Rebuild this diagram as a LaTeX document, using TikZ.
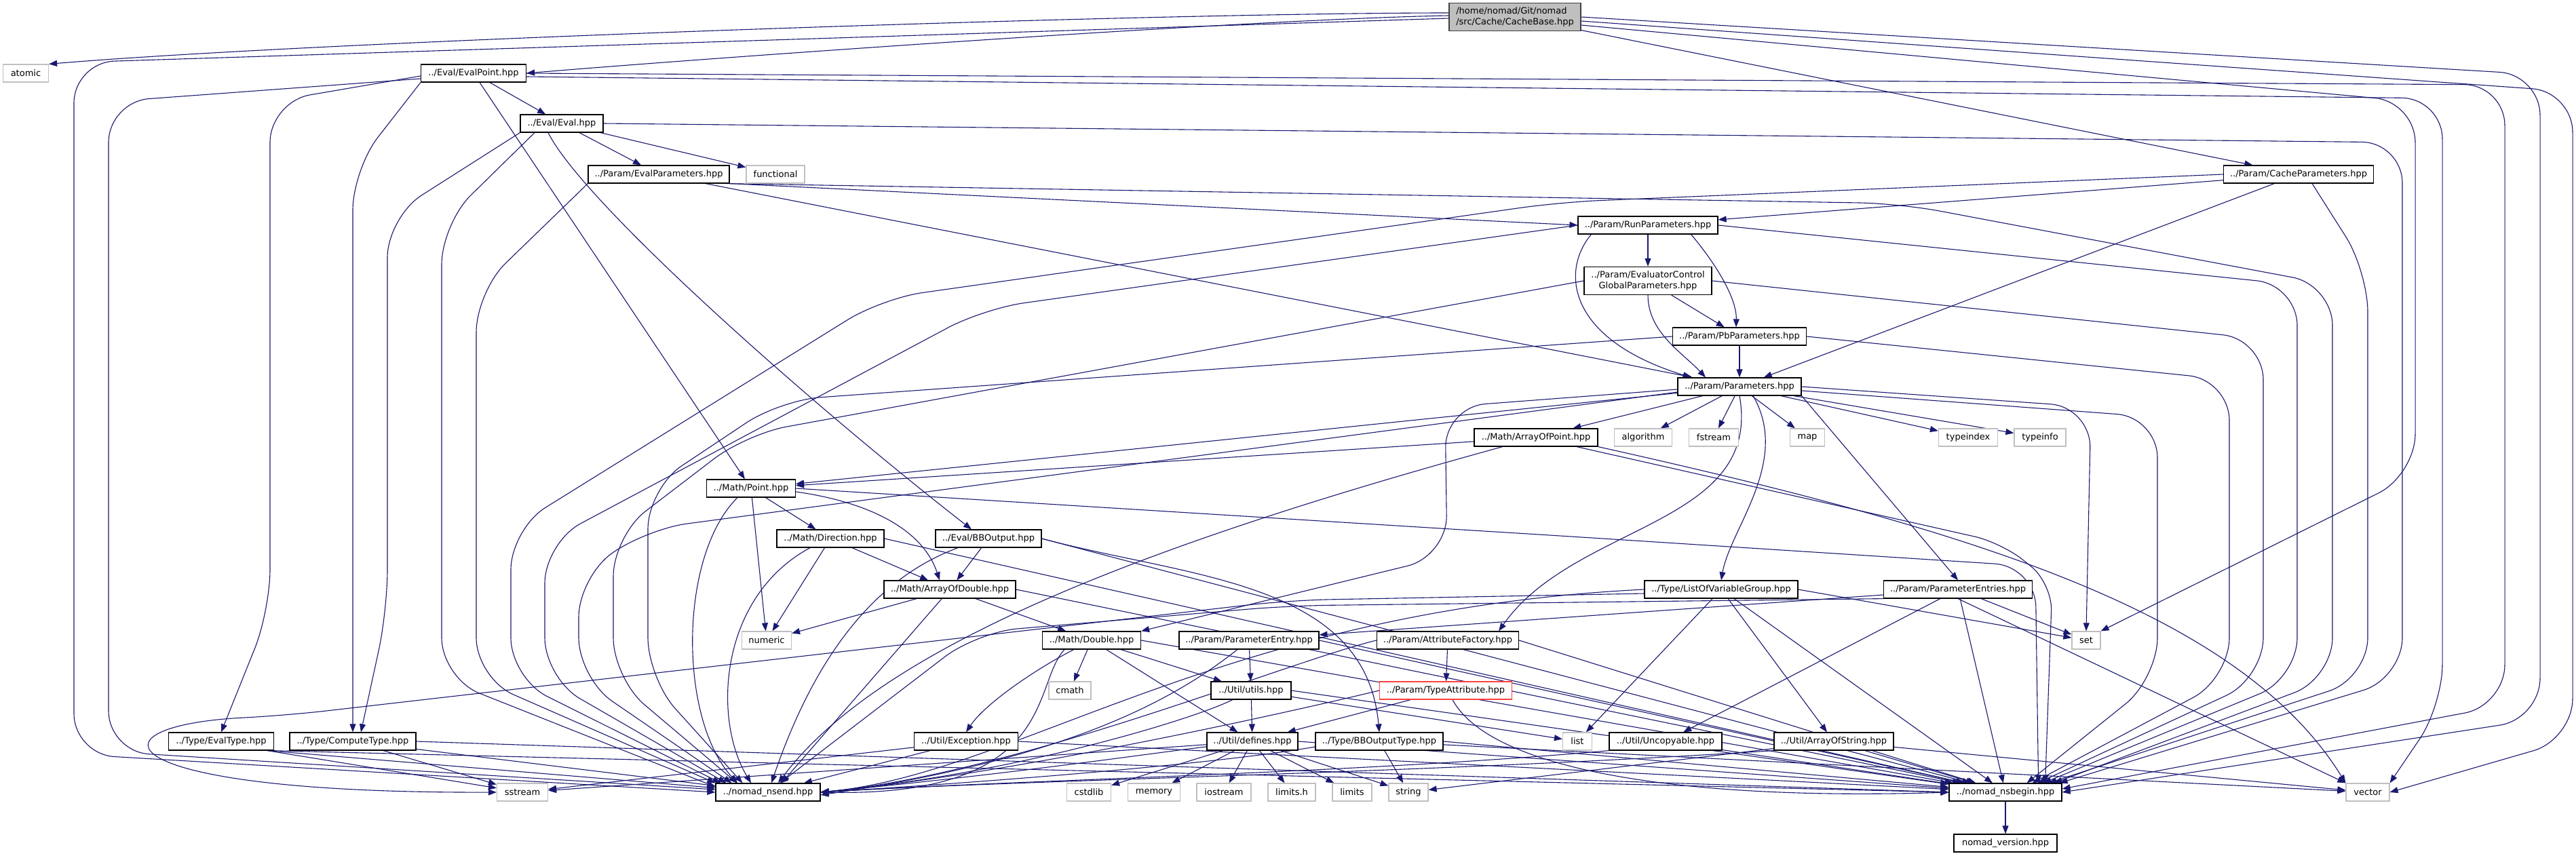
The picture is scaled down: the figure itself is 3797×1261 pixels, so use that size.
\documentclass[tikz,border=0pt]{standalone}
\usepackage{fontspec}
\setmainfont{DejaVu Sans}
\usetikzlibrary{arrows.meta, backgrounds}
\definecolor{linkblue}{HTML}{191970}
\definecolor{sysline}{HTML}{BFBFBF}
\definecolor{rootfill}{HTML}{BFBFBF}
\definecolor{rootline}{HTML}{404040}
\definecolor{truncline}{HTML}{FF4040}

\begin{document}
\begin{tikzpicture}[x=1pt, y=1pt,
  font=\fontsize{13}{15.3}\selectfont,
  hdr/.style={draw=black, fill=white, line width=1.2pt, minimum height=26pt, inner sep=2pt},
  sys/.style={hdr, draw=sysline},
  rootbox/.style={hdr, fill=rootfill, draw=rootline, minimum height=41pt, align=left},
  truncbox/.style={hdr, draw=truncline},
  inc/.style={linkblue, line width=1.1pt, -{Triangle[length=12pt, width=9pt]}},
  longinc/.style={inc, rounded corners=60pt}]
  \useasboundingbox (0,0) rectangle (3797,-1261);

  \node[rootbox, minimum width=194] (cb) at (2233,-25) {/home/nomad/Git/nomad\\/src/Cache/CacheBase.hpp};
  \node[sys, minimum width=67] (atomic) at (38,-108) {atomic};
  \node[hdr, minimum width=155] (ep) at (698,-108) {../Eval/EvalPoint.hpp};
  \node[hdr, minimum width=122] (eval) at (828,-182) {../Eval/Eval.hpp};
  \node[hdr, minimum width=208] (evp) at (971,-257) {../Param/EvalParameters.hpp};
  \node[sys, minimum width=86] (functional) at (1143,-257) {functional};
  \node[hdr, minimum width=221] (cp) at (3388,-257) {../Param/CacheParameters.hpp};
  \node[hdr, minimum width=206] (rp) at (2429,-332) {../Param/RunParameters.hpp};
  \node[hdr, minimum width=188, minimum height=41, align=center] (ecg) at (2429,-414) {../Param/EvaluatorControl\\GlobalParameters.hpp};
  \node[hdr, minimum width=197] (pb) at (2564,-496) {../Param/PbParameters.hpp};
  \node[hdr, minimum width=182] (pa) at (2564,-570) {../Param/Parameters.hpp};
  \node[hdr, minimum width=182] (ap) at (2264,-645) {../Math/ArrayOfPoint.hpp};
  \node[sys, minimum width=85] (algorithm) at (2422,-645) {algorithm};
  \node[sys, minimum width=73] (fstream) at (2526,-645) {fstream};
  \node[sys, minimum width=51] (map) at (2664,-645) {map};
  \node[sys, minimum width=87] (typeindex) at (2901,-645) {typeindex};
  \node[sys, minimum width=76] (typeinfo) at (3007,-645) {typeinfo};
  \node[hdr, minimum width=131] (point) at (1107,-720) {../Math/Point.hpp};
  \node[hdr, minimum width=158] (dir) at (1224,-794) {../Math/Direction.hpp};
  \node[hdr, minimum width=156] (bbo) at (1457,-794) {../Eval/BBOutput.hpp};
  \node[hdr, minimum width=194] (aod) at (1400,-869) {../Math/ArrayOfDouble.hpp};
  \node[hdr, minimum width=226] (lvg) at (2537,-869) {../Type/ListOfVariableGroup.hpp};
  \node[hdr, minimum width=219] (pes) at (2886,-869) {../Param/ParameterEntries.hpp};
  \node[sys, minimum width=73] (numeric) at (1130,-944) {numeric};
  \node[hdr, minimum width=145] (dbl) at (1609,-944) {../Math/Double.hpp};
  \node[hdr, minimum width=206] (pe) at (1841,-944) {../Param/ParameterEntry.hpp};
  \node[hdr, minimum width=209] (af) at (2134,-944) {../Param/AttributeFactory.hpp};
  \node[sys, minimum width=42] (set) at (3075,-944) {set};
  \node[sys, minimum width=62] (cmath) at (1577,-1018) {cmath};
  \node[hdr, minimum width=118] (utils) at (1844,-1018) {../Util/utils.hpp};
  \node[truncbox, minimum width=195] (ta) at (2131,-1018) {../Param/TypeAttribute.hpp};
  \node[hdr, minimum width=155] (evaltype) at (326,-1093) {../Type/EvalType.hpp};
  \node[hdr, minimum width=186] (computetype) at (520,-1093) {../Type/ComputeType.hpp};
  \node[hdr, minimum width=153] (exc) at (1424,-1093) {../Util/Exception.hpp};
  \node[hdr, minimum width=134] (defines) at (1846,-1093) {../Util/defines.hpp};
  \node[hdr, minimum width=188] (bbot) at (2033,-1093) {../Type/BBOutputType.hpp};
  \node[sys, minimum width=43] (list) at (2325,-1093) {list};
  \node[hdr, minimum width=166] (uncop) at (2455,-1093) {../Util/Uncopyable.hpp};
  \node[hdr, minimum width=176] (aos) at (2703,-1093) {../Util/ArrayOfString.hpp};
  \node[sys, minimum width=75] (sstream) at (770,-1168) {sstream};
  \node[hdr, minimum width=154] (nsend) at (1132,-1168) {../nomad\_nsend.hpp};
  \node[sys, minimum width=65] (cstdlib) at (1605,-1168) {cstdlib};
  \node[sys, minimum width=77] (memory) at (1701,-1168) {memory};
  \node[sys, minimum width=80] (iostream) at (1804,-1168) {iostream};
  \node[sys, minimum width=70] (limitsh) at (1904,-1168) {limits.h};
  \node[sys, minimum width=58] (limits) at (1993,-1168) {limits};
  \node[sys, minimum width=58] (string) at (2076,-1168) {string};
  \node[hdr, minimum width=166] (nsbegin) at (2956,-1168) {../nomad\_nsbegin.hpp};
  \node[sys, minimum width=64] (vector) at (3490,-1168) {vector};
  \node[hdr, minimum width=152] (version) at (2956,-1243) {nomad\_version.hpp};

  \begin{scope}[on background layer]
  \fill[white] (0,0) rectangle (3797,-1261);
  % CacheBase.hpp
  \draw[inc] ([yshift=6pt]cb.west) .. controls (1700,-19) and (480,-60) .. (atomic.north east);
  \draw[inc] ([yshift=2pt]cb.west) .. controls (1850,-28) and (1050,-85) .. (ep.east);
  \draw[longinc] ([yshift=-2pt]cb.west) -- (109,-92) -- (109,-1112) -- (nsend.west);
  \draw[inc] (cb) -- (cp);
  \draw[longinc] (cb.east) -- (3744,-110) -- (3744,-1060) -- (nsbegin.east);
  \draw[longinc] ([yshift=-6pt]cb.east) -- (3792,-135) -- (3792,-1090) -- (vector.east);
  \draw[longinc] ([yshift=-12pt]cb.east) -- (3560,-150) -- (3560,-700) -- (set.north east);
  % EvalPoint.hpp
  \draw[inc] (ep) -- (eval);
  \draw[inc] (ep) -- (point);
  \draw[longinc] ([yshift=-4pt]ep.west) -- (398,-150) -- (398,-900) -- (evaltype.north);
  \draw[longinc] (ep.south west) -- (520,-250) -- (computetype.north);
  \draw[longinc] ([yshift=-8pt]ep.west) -- (160,-150) -- (160,-1108) -- ([yshift=4pt]nsend.west);
  \draw[longinc] (ep.east) -- (3692,-125) -- (3692,-1040) -- ([yshift=5pt]nsbegin.east);
  \draw[longinc] ([yshift=-5pt]ep.east) -- (3600,-145) -- (3600,-1040) -- (vector.north east);
  % Eval.hpp
  \draw[inc] (eval) -- (functional);
  \draw[inc] (eval) -- (evp);
  \draw[inc] ([xshift=-20pt]eval.south) .. controls (860,-300) and (1200,-600) .. ([xshift=-25pt]bbo.north);
  \draw[longinc] (eval.south west) -- (571,-320) -- (571,-900) -- ([xshift=12pt]computetype.north);
  \draw[longinc] ([xshift=-40pt]eval.south) -- (651,-330) -- (651,-1000) -- ([yshift=8pt]nsend.west);
  \draw[longinc] (eval.east) -- (3541,-210) -- (3541,-1000) -- ([xshift=-4pt]nsbegin.north east);
  % EvalParameters.hpp
  \draw[inc] (evp.south east) -- (rp.west);
  \draw[inc] (evp) -- (pa);
  \draw[longinc] (evp.south west) -- (702,-430) -- (702,-1000) -- (nsend.north west);
  \draw[longinc] ([xshift=-6pt]evp.south east) -- (2800,-300) -- (3438,-420) -- (3438,-1000) -- ([xshift=-12pt]nsbegin.north east);
  % CacheParameters.hpp
  \draw[inc] (cp) -- (rp);
  \draw[inc] (cp) -- (pa);
  \draw[longinc] (cp.west) -- (2300,-298) -- (1300,-440) -- (753,-780) -- (753,-1000) -- ([xshift=8pt]nsend.north west);
  \draw[longinc] ([xshift=20pt]cp.south) -- (3490,-400) -- (3490,-1000) -- ([xshift=-20pt]nsbegin.north east);
  % RunParameters.hpp
  \draw[inc] (rp) -- (ecg);
  \draw[inc] ([xshift=-40pt]rp.south east) .. controls (2530,-390) and (2560,-440) .. ([xshift=-5pt]pb.north);
  \draw[inc] ([xshift=20pt]rp.south west) .. controls (2300,-400) and (2310,-500) .. ([xshift=20pt]pa.north west);
  \draw[longinc] (rp.west) -- (1450,-455) -- (803,-800) -- (803,-1000) -- ([xshift=16pt]nsend.north west);
  \draw[longinc] (rp.east) -- (3386,-420) -- (3386,-1000) -- ([xshift=-28pt]nsbegin.north east);
  % EvaluatorControlGlobalParameters.hpp
  \draw[inc] (ecg) -- (pb);
  \draw[inc] (ecg.south) .. controls (2429,-490) and (2480,-520) .. ([xshift=-50pt]pa.north);
  \draw[longinc] (ecg.west) -- (1100,-640) -- (904,-790) -- (904,-1000) -- ([xshift=32pt]nsend.north west);
  \draw[longinc] (ecg.east) -- (3336,-500) -- (3336,-1000) -- ([xshift=-36pt]nsbegin.north east);
  % PbParameters.hpp
  \draw[inc] (pb) -- (pa);
  \draw[longinc] (pb.west) -- (1150,-590) -- (955,-720) -- (955,-1000) -- ([xshift=40pt]nsend.north west);
  \draw[longinc] (pb.east) -- (3286,-560) -- (3286,-1000) -- ([xshift=-44pt]nsbegin.north east);
  % Parameters.hpp
  \draw[inc] (pa) -- (ap);
  \draw[inc] (pa) -- (algorithm);
  \draw[inc] (pa) -- (fstream);
  \draw[inc] (pa) -- (map);
  \draw[inc] (pa) -- (typeindex);
  \draw[inc] (pa) -- (typeinfo);
  \draw[inc] (pa) -- (point);
  \draw[inc] (pa.south) .. controls (2598,-775) and (2321,-771) .. ([xshift=-30pt]af.north east);
  \draw[inc] ([xshift=20pt]pa.south) .. controls (2640,-680) and (2550,-780) .. (lvg.north);
  \draw[inc] (pa.south east) -- (pes.north);
  \draw[longinc] (pa.east) -- (3082,-600) -- (set.north);
  \draw[longinc] ([yshift=-6pt]pa.east) -- (3180,-615) -- (3180,-1000) -- ([xshift=-52pt]nsbegin.north east);
  \draw[longinc] ([yshift=-4pt]pa.west) -- (2130,-600) -- (2133,-820) -- (dbl.north east);
  \draw[longinc] ([yshift=-8pt]pa.west) -- (953,-780) -- (853,-850) -- (853,-1000) -- ([xshift=24pt]nsend.north west);
  % ArrayOfPoint.hpp
  \draw[inc] (ap) -- (point);
  \draw[inc] (ap) .. controls (1700,-800) and (1300,-950) .. ([xshift=15pt]nsend.north);
  \draw[inc] (ap.south east) .. controls (2900,-780) and (3300,-900) .. (vector.north west);
  \draw[longinc, rounded corners=40pt] (ap) -- (2950,-800) -- (3025,-860) -- ([xshift=-25pt]nsbegin.north east);
  % Point.hpp
  \draw[inc] (point) -- (dir);
  \draw[inc] ([yshift=-5pt]point.east) .. controls (1280,-740) and (1360,-780) .. ([xshift=-15pt]aod.north);
  \draw[inc] (point) -- (numeric);
  \draw[inc] ([xshift=-20pt]point.south) .. controls (1000,-820) and (1000,-1060) .. ([xshift=-45pt]nsend.north);
  \draw[longinc] (point.east) -- (2300,-790) -- (3000,-835) -- ([xshift=-35pt]nsbegin.north east);
  % Direction.hpp
  \draw[inc] (dir) -- (aod);
  \draw[inc] (dir) -- (numeric);
  \draw[inc] ([xshift=-30pt]dir.south) .. controls (1060,-880) and (1050,-1060) .. ([xshift=-25pt]nsend.north);
  \draw[inc] (dir.east) -- (nsbegin);
  % BBOutput.hpp
  \draw[inc] (bbo) -- (aod);
  \draw[inc] (bbo.east) .. controls (1752,-852) and (2013,-856) .. (bbot.north);
  \draw[inc] ([xshift=-45pt]bbo.south) .. controls (1270,-860) and (1190,-1000) .. ([xshift=5pt]nsend.north);
  \draw[inc] (bbo.east) -- (nsbegin);
  % ArrayOfDouble.hpp
  \draw[inc] (aod) -- (dbl);
  \draw[inc] (aod) -- (numeric);
  \draw[inc] (aod) -- ([xshift=20pt]nsend.north);
  \draw[inc] (aod.east) -- (nsbegin);
  % Double.hpp
  \draw[inc] (dbl) -- (cmath);
  \draw[inc] (dbl) .. controls (1520,-990) and (1450,-1040) .. (exc.north);
  \draw[inc] (dbl) -- (utils);
  \draw[inc] (dbl) -- (defines);
  \draw[inc] ([xshift=-40pt]dbl.south) .. controls (1520,-1010) and (1560,-1175) .. (nsend.east);
  \draw[inc] (dbl.east) -- (nsbegin);
  % ParameterEntry.hpp
  \draw[inc] (pe) -- (utils);
  \draw[inc] (pe) .. controls (1720,-1040) and (1560,-1120) .. ([yshift=-4pt]nsend.east);
  \draw[inc] (pe.east) -- (nsbegin);
  % ParameterEntries.hpp
  \draw[inc] ([yshift=-8pt]pes.west) -- ([yshift=8pt]pe.east);
  \draw[inc] (pes) -- (uncop);
  \draw[inc] (pes) -- (set);
  \draw[inc] (pes.south) -- (vector.north west);
  \draw[longinc] (pes.south west) -- (1900,-893) -- (1440,-932) -- (nsend);
  \draw[inc] (pes) -- (nsbegin);
  % ListOfVariableGroup.hpp
  \draw[inc] (lvg) -- (list);
  \draw[inc] (lvg.east) -- (set);
  \draw[inc] (lvg) -- (aos);
  \draw[inc] (lvg.west) .. controls (1800,-900) and (1500,-1140) .. (nsend.east);
  \draw[longinc] ([yshift=-6pt]lvg.west) -- (1900,-885) -- (420,-1055) .. controls (120,-1070) and (150,-1170) .. (sstream.west);
  \draw[inc] (lvg) -- (nsbegin);
  % AttributeFactory.hpp, TypeAttribute.hpp
  \draw[inc] (af) -- (ta);
  \draw[inc] (af.west) .. controls (1900,-975) and (1500,-1140) .. (nsend.east);
  \draw[inc] (af.east) -- (nsbegin);
  \draw[inc] (ta) -- (defines);
  \draw[inc] (ta.west) .. controls (1900,-1050) and (1500,-1140) .. (nsend.east);
  \draw[inc] ([xshift=10pt]ta.south) .. controls (2200,-1140) and (2500,-1180) .. (nsbegin.west);
  % utils.hpp, Exception.hpp
  \draw[inc] (utils) -- (defines);
  \draw[inc] (utils) -- (list);
  \draw[inc] (utils) .. controls (1760,-1060) and (1500,-1140) .. (nsend.east);
  \draw[inc] (utils.east) -- (nsbegin);
  \draw[inc] (exc) -- (sstream);
  \draw[inc] (exc) -- (nsend);
  \draw[inc] (exc.east) -- (nsbegin);
  % defines.hpp
  \draw[inc] (defines) -- (cstdlib);
  \draw[inc] (defines) -- (memory);
  \draw[inc] (defines) -- (iostream);
  \draw[inc] (defines) -- (limitsh);
  \draw[inc] (defines) -- (limits);
  \draw[inc] (defines) -- (string);
  \draw[inc] (defines) -- (sstream);
  \draw[inc] (defines) .. controls (1700,-1110) and (1500,-1140) .. (nsend.east);
  \draw[inc] (defines.east) -- (nsbegin);
  % BBOutputType.hpp, Uncopyable.hpp, ArrayOfString.hpp
  \draw[inc] (bbot) -- (string);
  \draw[inc] ([yshift=-8pt]bbot.west) .. controls (1800,-1125) and (1500,-1150) .. (nsend.east);
  \draw[inc] (bbot.east) -- (nsbegin);
  \draw[inc] (bbot) -- (vector);
  \draw[inc] (uncop.south west) .. controls (2000,-1140) and (1500,-1150) .. (nsend.east);
  \draw[inc] (uncop) -- (nsbegin);
  \draw[inc] (aos) -- (string);
  \draw[inc] (aos.south west) .. controls (2100,-1140) and (1500,-1150) .. (nsend.east);
  \draw[inc] (aos) -- (nsbegin);
  \draw[inc] (aos) -- (vector);
  % EvalType.hpp, ComputeType.hpp
  \draw[inc] ([xshift=-10pt]evaltype.south east) -- (sstream);
  \draw[inc] ([xshift=-10pt]evaltype.south east) -- (nsend);
  \draw[inc] ([xshift=-5pt]evaltype.south east) -- (nsbegin.west);
  \draw[inc] (computetype) -- (sstream);
  \draw[inc] (computetype) -- (nsend);
  \draw[inc] (computetype.east) -- (nsbegin.west);
  % nomad_nsbegin.hpp
  \draw[inc] (nsbegin) -- (version);
  \end{scope}
\end{tikzpicture}
\end{document}
